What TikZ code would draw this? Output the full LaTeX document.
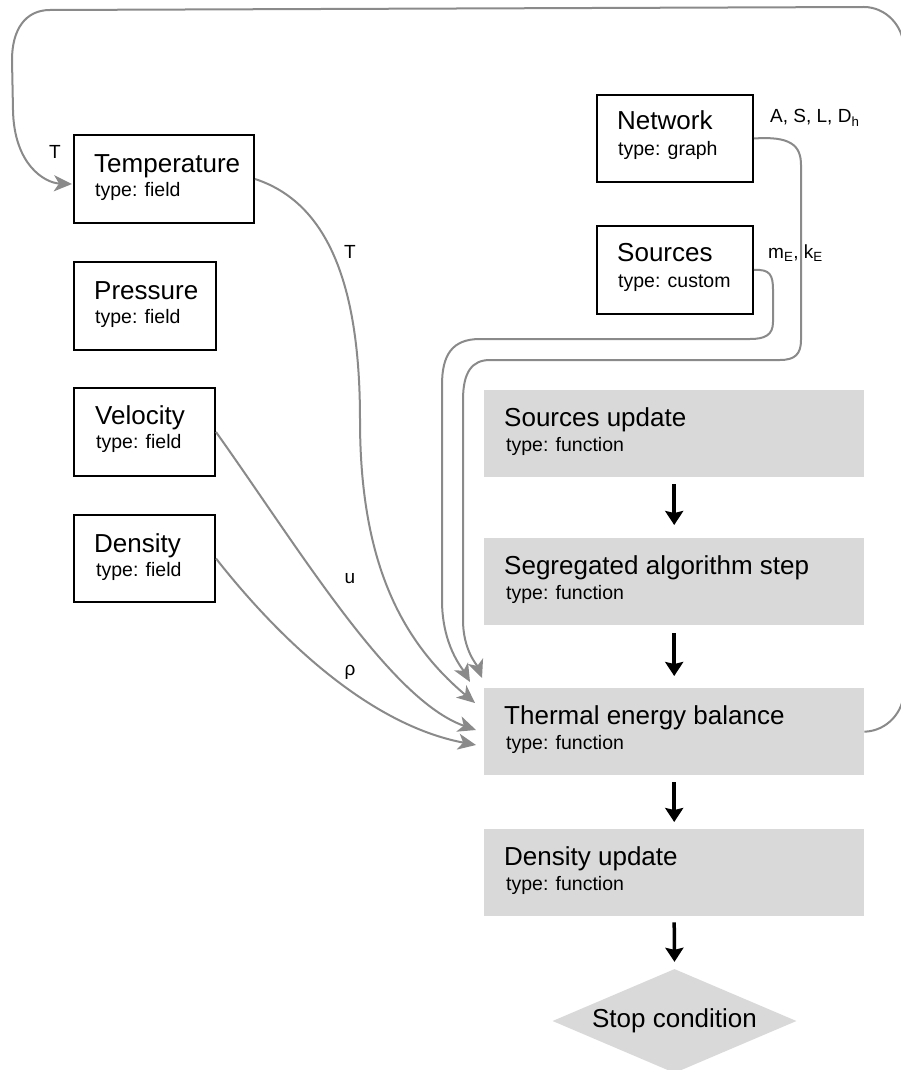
\documentclass[tikz,border=0pt]{standalone}
\usepackage{fontspec}
\setmainfont{Liberation Sans}
\usetikzlibrary{arrows.meta,calc,shapes.geometric}
\definecolor{boxgray}{HTML}{D9D9D9}
\definecolor{conngray}{HTML}{8A8A8A}
\begin{document}
\begin{tikzpicture}[x=1pt,y=-1pt,
  fieldbox/.style={draw=black, line width=2pt, fill=white, inner sep=0pt, anchor=north west},
  funcbox/.style={fill=boxgray, draw=none, inner sep=0pt, anchor=north west, minimum width=380pt, minimum height=87pt},
  ttl/.style={anchor=base west, inner sep=0pt, font=\fontsize{26}{30}\selectfont},
  subt/.style={anchor=base west, inner sep=0pt, font=\fontsize{19.5}{23}\selectfont},
  lbl/.style={inner sep=0pt, font=\fontsize{19}{22}\selectfont},
  conn/.style={draw=conngray, line width=2pt, -{Stealth[length=18pt,width=16pt,inset=5pt]}},
  flow/.style={draw=black, line width=3.5pt, -{Stealth[length=14pt,width=18pt,inset=2pt]}},
]
\useasboundingbox (0,0) rectangle (901,1070);

% field boxes
\node[fieldbox, minimum width=180pt, minimum height=88pt] (temp) at (73,134) {};
\node[ttl] at (94,172) {Temperature};
\node[subt] at (95,196) {type: field};

\node[fieldbox, minimum width=142pt, minimum height=88pt] (pres) at (73,261) {};
\node[ttl] at (94,299) {Pressure};
\node[subt] at (95,323) {type: field};

\node[fieldbox, minimum width=141pt, minimum height=88pt] (vel) at (73,387) {};
\node[ttl] at (95,424) {Velocity};
\node[subt] at (96,448) {type: field};

\node[fieldbox, minimum width=141pt, minimum height=87pt] (dens) at (73,514) {};
\node[ttl] at (94,552) {Density};
\node[subt] at (96,576) {type: field};

\node[fieldbox, minimum width=156pt, minimum height=87pt] (net) at (596,94) {};
\node[ttl] at (617,130) {Network};
\node[subt] at (618,155) {type: graph};

\node[fieldbox, minimum width=156pt, minimum height=88pt] (src) at (596,225) {};
\node[ttl] at (617,261) {Sources};
\node[subt] at (618,287) {type: custom};

% function boxes
\node[funcbox] (su) at (484,390) {};
\node[ttl] at (504,426) {Sources update};
\node[subt] at (506,451) {type: function};

\node[funcbox] (seg) at (484,538) {};
\node[ttl] at (504,574) {Segregated algorithm step};
\node[subt] at (506,599) {type: function};

\node[funcbox] (therm) at (484,688) {};
\node[ttl] at (504,724) {Thermal energy balance};
\node[subt] at (506,749) {type: function};

\node[funcbox] (du) at (484,829) {};
\node[ttl] at (504,865) {Density update};
\node[subt] at (506,890) {type: function};

\node[diamond, fill=boxgray, draw=none, minimum width=244pt, minimum height=104pt, inner sep=0pt] (stop) at (674.5,1021) {};
\node[inner sep=0pt, font=\fontsize{26}{30}\selectfont] at (stop.center) {Stop condition};

% flow arrows
\draw[flow] ($(su.south)+(0,7)$) -- ($(seg.north)+(0,-13)$);
\draw[flow] ($(seg.south)+(0,8)$) -- ($(therm.north)+(0,-12)$);
\draw[flow] ($(therm.south)+(0,7)$) -- ($(du.north)+(0,-7)$);
\draw[flow] ($(du.south)+(0,6)$) -- ($(stop.north)+(0,-7)$);

% connectors
\draw[conn] (temp.east) .. controls (335,205) and (360,300) .. (360,420)
  .. controls (360,560) and (400,640) .. ($(therm.north west)+(-9,15)$);
\draw[conn] (vel.east) .. controls (300,550) and (390,700) .. ($(therm.north west)+(-8,42)$);
\draw[conn] (dens.east) .. controls (280,640) and (370,725) .. ($(therm.north west)+(-8,57)$);
\draw[conn] (src.east) .. controls (770,269) and (773,275) .. (773,290) -- (773,322)
  .. controls (773,335) and (765,339) .. (750,339) -- (480,339)
  .. controls (452,339) and (442,355) .. (442,385) -- (442,600)
  .. controls (442,645) and (462,668) .. ($(therm.north west)+(-14,-6)$);
\draw[conn] (net.east) .. controls (790,136) and (801,145) .. (801,165) -- (801,340)
  .. controls (801,354) and (795,360) .. (780,360) -- (490,360)
  .. controls (472,360) and (463,372) .. (463,400) -- (463,620)
  .. controls (463,650) and (477,665) .. ($(therm.north west)+(-2,-10)$);
\draw[conn] (therm.east) .. controls (887,731) and (904,712) .. (904,690) -- (904,50)
  .. controls (904,25) and (885,7) .. (864,7) -- (50,10)
  .. controls (25,10) and (12,30) .. (12,60) -- (13,110)
  .. controls (14,165) and (45,183) .. ($(temp.west)+(-1,5)$);

% labels
\node[lbl] at (55,152) {T};
\node[lbl] at (350,252) {T};
\node[lbl] at (350,579) {u};
\node[lbl] at (350,672) {ρ};
\node[lbl, anchor=base west] at (770,123) {A, S, L, D\textsubscript{h}};
\node[lbl, anchor=base west] at (768,258) {m\textsubscript{E}, k\textsubscript{E}};
\end{tikzpicture}
\end{document}
